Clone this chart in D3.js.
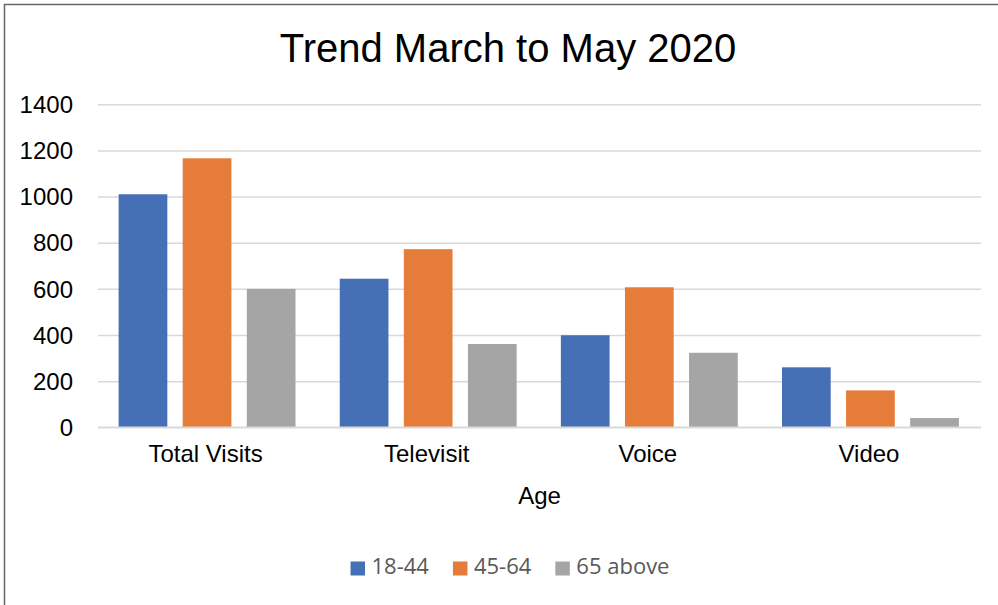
<!DOCTYPE html>
<html><head><meta charset="utf-8">
<script src="https://cdn.jsdelivr.net/npm/d3@7"></script>
<style>html,body{margin:0;padding:0;background:#fff;} svg{display:block;}</style>
</head><body>
<svg id="chart" width="998" height="605"></svg>
<script>
const categories = ["Total Visits", "Televisit", "Voice", "Video"];
const seriesNames = ["18-44", "45-64", "65 above"];
const values_18_44 = [1010, 644, 399, 260];
const values_45_64 = [1166, 772, 607, 160];
const values_65_above = [600, 361, 323, 40];
const yTicks = [0, 200, 400, 600, 800, 1000, 1200, 1400];
const colors = ["#4570B6", "#E67C39", "#A5A5A5"];
const titleText = "Trend March to May 2020";
const xTitle = "Age";

const seriesValues = [values_18_44, values_45_64, values_65_above];
const svg = d3.select("#chart");
const W = 998, H = 605;
const plot = {left: 98, right: 981, top: 104.3, bottom: 427.3};

svg.append("rect").attr("x", 4.5).attr("y", 4.5).attr("width", W + 10).attr("height", H + 10)
  .attr("fill", "#fff").attr("stroke", "#666").attr("stroke-width", 1.5);

const x0 = d3.scaleBand().domain(categories).range([plot.left - 1.5, plot.right])
  .paddingInner(0.2).paddingOuter(0.1);
const x1 = d3.scaleBand().domain(seriesNames).range([0, x0.bandwidth()])
  .paddingInner(0.24).paddingOuter(0);
const y = d3.scaleLinear().domain([0, 1400]).range([plot.bottom, plot.top]);

// gridlines
const yAxis = d3.axisLeft(y).tickValues(yTicks).tickSize(-(plot.right - plot.left)).tickPadding(25)
  .tickFormat(d3.format("d"));
const gy = svg.append("g").attr("transform", `translate(${plot.left},0)`).call(yAxis);
gy.select(".domain").remove();
gy.selectAll(".tick line").attr("stroke", "#D9D9D9").attr("stroke-width", 1.5);
gy.selectAll(".tick text").attr("font-family", "'Liberation Sans', Arial, sans-serif")
  .attr("font-size", 24).attr("fill", "#000").attr("dy", "0.34em");

// bars
const groups = svg.append("g").selectAll("g").data(categories).join("g")
  .attr("transform", d => `translate(${x0(d)},0)`);
groups.selectAll("rect").data((c, ci) => seriesNames.map((s, si) => ({s, si, v: seriesValues[si][ci]})))
  .join("rect")
  .attr("x", d => x1(d.s)).attr("width", x1.bandwidth())
  .attr("y", d => y(d.v)).attr("height", d => y(0) - y(d.v))
  .attr("fill", d => colors[d.si]);

// x axis
const xAxis = d3.axisBottom(x0).tickSize(0).tickPadding(18);
const gx = svg.append("g").attr("transform", `translate(0,${plot.bottom})`).call(xAxis);
gx.select(".domain").attr("d", `M${plot.left},0H${plot.right}`).attr("stroke", "#D9D9D9").attr("stroke-width", 1.5);
gx.selectAll(".tick text").attr("font-family", "'Liberation Sans', Arial, sans-serif")
  .attr("font-size", 24).attr("fill", "#000").attr("dx", -1.5);

// title
svg.append("text").attr("x", 508).attr("y", 62).attr("text-anchor", "middle")
  .attr("font-family", "'Liberation Sans', Arial, sans-serif").attr("font-size", 40)
  .attr("fill", "#000").text(titleText);

// x title
svg.append("text").attr("x", (plot.left + plot.right) / 2).attr("y", 503.5).attr("text-anchor", "middle")
  .attr("font-family", "'Liberation Sans', Arial, sans-serif").attr("font-size", 24)
  .attr("fill", "#000").text(xTitle);

// legend
const leg = svg.append("g");
let lx = 0;
seriesNames.forEach((name, i) => {
  const g = leg.append("g").attr("transform", `translate(${lx},0)`);
  g.append("rect").attr("x", 0).attr("y", 561.5).attr("width", 14.5).attr("height", 14).attr("fill", colors[i]);
  const t = g.append("text").attr("x", 21).attr("y", 574.3)
    .attr("font-family", "'Open Sans', sans-serif").attr("font-size", 22).attr("fill", "#595959").text(name);
  const w = t.node().getComputedTextLength();
  lx += 21 + w + 24;
});
const totalW = lx - 24;
leg.attr("transform", `translate(${510 - totalW / 2},0)`);
</script>
</body></html>
